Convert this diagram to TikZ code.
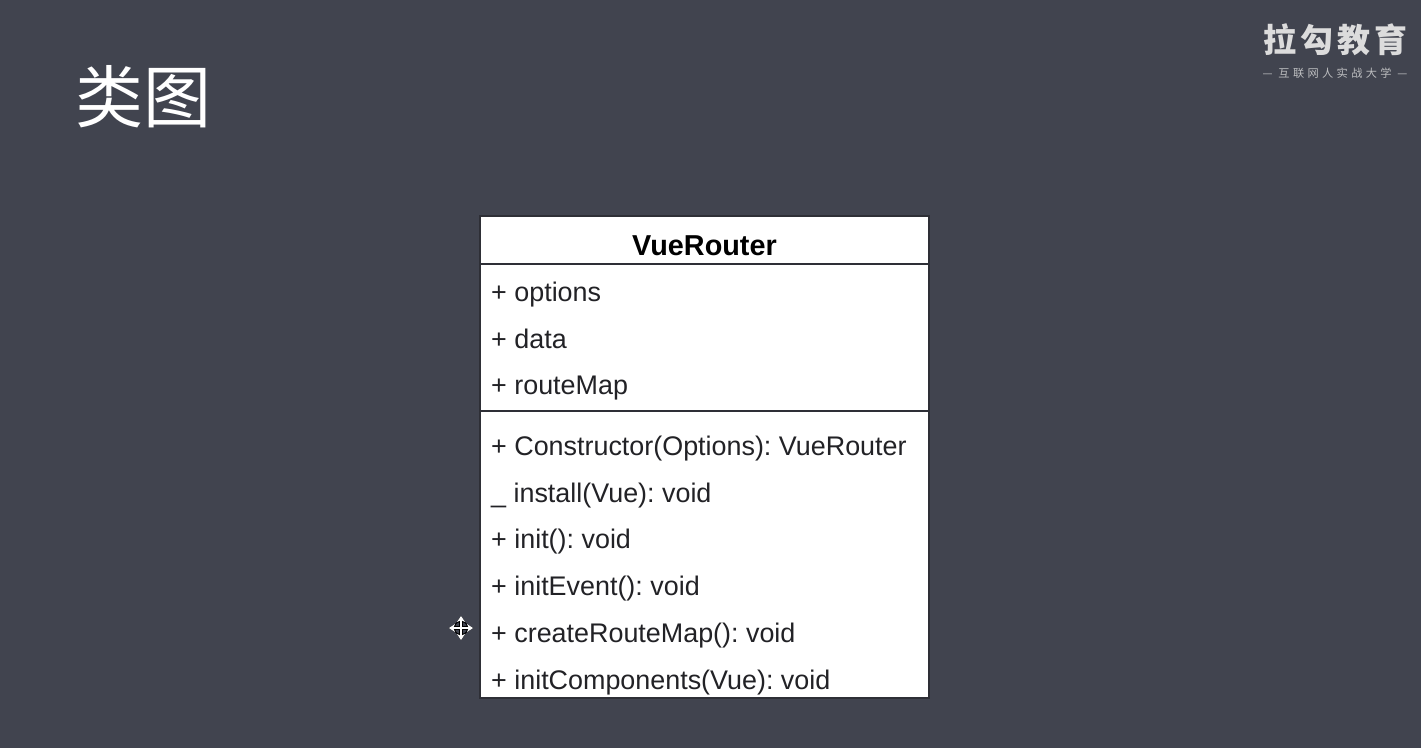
\documentclass[tikz,border=0pt]{standalone}
\usepackage{fontspec}
\setmainfont{Liberation Sans}
\newfontfamily\cjk{Noto Sans CJK SC}
\newfontfamily\logofont[LetterSpace=12]{Noto Sans CJK SC}
\newfontfamily\sublogofont[LetterSpace=30]{Noto Sans CJK SC}
\usetikzlibrary{calc,positioning,arrows.meta}
\definecolor{slidebg}{HTML}{41444F}
\definecolor{logogray}{HTML}{DCDCDC}
\definecolor{boxline}{HTML}{2E2F36}
\definecolor{rowtext}{HTML}{222226}
\frenchspacing
\tikzset{
	titletext/.style={text=white, inner sep=0pt, font=\cjk\fontsize{68}{68}\selectfont},
	logotext/.style={text=logogray, inner sep=0pt, font=\logofont\bfseries\fontsize{33}{33}\selectfont},
	sublogotext/.style={text=logogray!80!slidebg, inner sep=0pt, font=\sublogofont\fontsize{11.2}{11.2}\selectfont},
	classname/.style={text=black, inner sep=0pt, font=\bfseries\fontsize{28.8}{28.8}\selectfont},
	rowitem/.style={text=rowtext, inner sep=0pt, anchor=west, text height=19pt, text depth=6pt, font=\fontsize{26.9}{26.9}\selectfont},
	compartment/.style={draw=boxline, line width=1.5pt},
	cursorarm/.style={draw=white, line width=1.6pt, -{Stealth[length=6pt,width=8pt]}},
	cursoredge/.style={draw=black, line width=3.4pt, -{Stealth[length=8pt,width=11pt]}},
}

\begin{document}
\begin{tikzpicture}[x=1pt, y=-1pt]
	\fill[slidebg] (0,0) rectangle (1421,748);
	\useasboundingbox (0,0) rectangle (1421,748);

	\node[titletext] (title) at (143.5,97) {类图};
	\node[logotext] (logo) at (1335.5,40) {拉勾教育};
	\node[sublogotext] (sublogo) at (1335,73) {— 互联网人实战大学 —};

	% class box
	\node[fill=white, minimum width=449pt, minimum height=482pt, inner sep=0pt, compartment] (vuerouter) at (704.5,457) {};
	\node[classname] (name) at (704.5,245.5) {VueRouter};
	\coordinate (nameleft) at (480,264);
	\coordinate (nameright) at (929,264);
	\coordinate (attrleft) at (480,411);
	\coordinate (attrright) at (929,411);
	\draw[compartment] (nameleft) -- (nameright);
	\draw[compartment] (attrleft) -- (attrright);

	% attributes
	\node[rowitem] (options) at (491,295) {+ options};
	\node[rowitem, below=21.1pt of options.south west, anchor=north west] (data) {+ data};
	\node[rowitem, below=21.1pt of data.south west, anchor=north west] (routemap) {+ routeMap};

	% methods
	\node[rowitem] (ctor) at (491,449) {+ Constructor(Options): VueRouter};
	\node[rowitem, below=21.3pt of ctor.south west, anchor=north west] (install) {\_ install(Vue): void};
	\node[rowitem, below=21.3pt of install.south west, anchor=north west] (init) {+ init(): void};
	\node[rowitem, below=21.3pt of init.south west, anchor=north west] (initevent) {+ initEvent(): void};
	\node[rowitem, below=21.3pt of initevent.south west, anchor=north west] (createmap) {+ createRouteMap(): void};
	\node[rowitem, below=21.3pt of createmap.south west, anchor=north west] (initcomp) {+ initComponents(Vue): void};

	% move cursor
	\coordinate (cursor) at (461,628);
	\foreach \dx/\dy/\armname in {-12/0/armw, 12/0/arme, 0/-12/armn, 0/12/arms} {
		\coordinate (\armname) at ($(cursor)+(\dx,\dy)$);
		\draw[cursoredge] (cursor) -- (\armname);
	}
	\foreach \armname in {armw, arme, armn, arms} {
		\draw[cursorarm] (cursor) -- (\armname);
	}
\end{tikzpicture}
\end{document}
